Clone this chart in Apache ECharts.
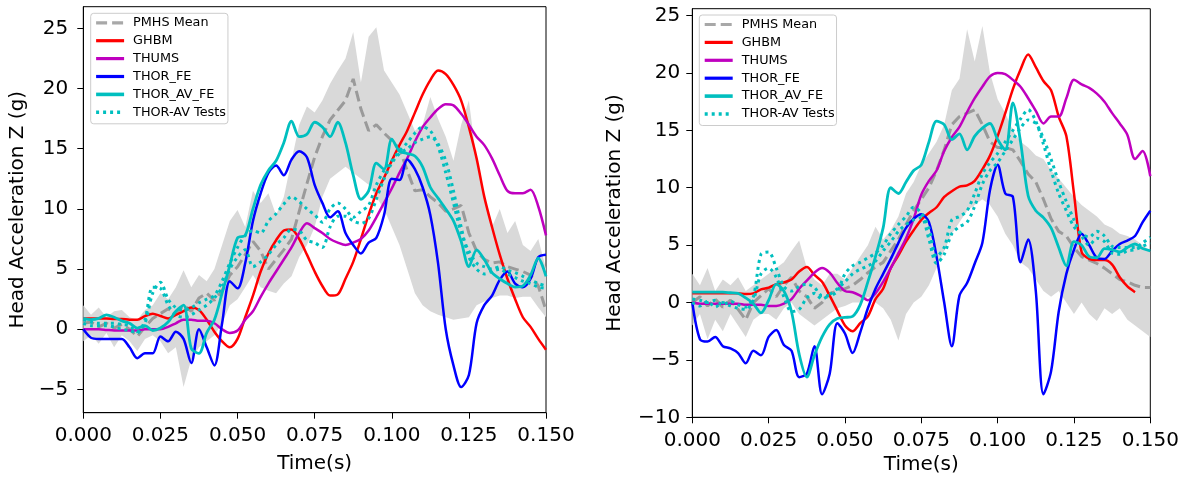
<!DOCTYPE html>
<html><head><meta charset="utf-8">
<script src="https://cdn.jsdelivr.net/npm/echarts@6/dist/echarts.min.js"></script>
<style>html,body{margin:0;padding:0;background:#fff}#c{width:1189px;height:485px}</style>
</head><body><div id="c"></div><script>
// time grid (ms)
const T_MS = [0,2.5,5,7.5,10,12.5,15,17.5,20,22.5,25,27.5,30,32.5,35,37.5,40,42.5,45,47.5,50,52.5,55,57.5,60,62.5,65,67.5,70,72.5,75,77.5,80,82.5,85,87.5,90,92.5,95,97.5,100,102.5,105,107.5,110,112.5,115,117.5,120,122.5,125,127.5,130,132.5,135,137.5,140,142.5,145,147.5,150];
const X_TICK_INTERVAL = 0.025;
const Y_TICKS_LEFT = [-5,0,5,10,15,20,25];
const Y_TICKS_RIGHT = [-10,-5,0,5,10,15,20,25];
const LEGEND_NAMES = ['PMHS Mean','GHBM','THUMS','THOR_FE','THOR_AV_FE','THOR-AV Tests'];

// ---------- left panel ----------
const L_UPPER = [2.0,1.2,1.8,1.0,1.5,1.6,1.0,0.8,1.6,2.0, 3.0,2.5,3.5,4.9,3.5,4.5,4.0,5.0,7.0,9.0, 9.9,8.5,11.5,10.5,11.3,9.5,11.0,14.0,17.0,18.5, 18.0,19.0,20.4,21.5,22.5,24.7,20.5,24.3,25.1,21.5, 20.5,19.5,18.0,16.5,17.0,19.3,17.5,16.0,14.0,17.0, 19.0,14.0,11.0,8.5,10.0,8.0,9.0,7.0,6.5,7.5, 5.0];
const L_LOWER = [-1.0,-0.5,-1.2,-0.3,-1.5,-0.5,-1.0,-1.8,-0.8,-0.5, -1.0,-2.0,-1.5,-4.8,-2.5,-1.5,-1.0,-0.5,0.5,2.0, 2.5,3.5,4.5,3.5,3.2,3.0,3.8,4.4,6.0,7.0, 8.5,11.0,12.5,13.0,13.5,13.0,12.5,12.0,11.0,10.0, 8.5,7.0,5.0,3.0,2.0,1.5,1.2,1.0,0.8,0.9, 1.0,2.0,2.3,2.6,2.8,2.8,2.6,2.7,2.7,1.8, 1.0];
const L_MEAN = [0.5,0.6,0.2,0.5,0.1,0.4,0.0,-0.6,0.2,0.9, 1.3,1.7,1.3,2.0,1.5,2.6,3.0,2.4,3.2,4.5, 5.2,6.2,7.3,6.5,5.0,5.8,6.6,7.5,9.8,12.1, 14.3,16.0,17.4,18.2,19.0,20.8,18.3,16.5,17.0,16.3, 15.7,15.0,13.2,11.5,11.6,11.0,10.5,9.8,10.0,10.3, 8.0,6.5,5.8,5.5,5.6,5.2,5.0,4.8,4.5,3.6, 1.6];
const L_GHBM = [0.9,0.9,0.9,0.9,0.85,0.85,0.8,0.8,1.1,1.3, 1.1,0.9,1.2,1.5,1.8,1.6,0.8,-0.2,-1.0,-1.5, -0.8,1.0,2.8,4.8,6.3,7.4,8.2,8.3,7.5,6.2, 4.8,3.6,2.8,2.9,4.2,5.6,7.5,9.5,11.3,12.6, 14.0,15.3,16.5,18.0,19.5,20.7,21.5,21.2,20.3,19.0, 16.8,14.2,11.0,8.5,6.2,4.2,2.5,1.0,0.2,-0.8, -1.7];
const L_THUMS = [0,0,0,-0.05,-0.1,-0.1,-0.1,-0.1,0,0, 0,0.2,0.5,0.8,0.8,0.7,0.7,0.5,0.0,-0.3, -0.1,0.8,1.5,2.7,3.8,4.8,5.8,6.8,8.0,8.8, 8.4,8.0,7.5,7.2,7.0,7.2,7.5,8.2,9.3,10.5, 11.7,13.0,14.2,15.6,16.8,17.6,18.3,18.7,18.6,17.9, 17.0,16.0,15.3,14.2,12.8,11.5,11.3,11.3,11.6,10.2, 7.8];
const L_THORFE = [0,-0.7,-0.8,-0.8,-0.8,-0.8,-1.5,-2.4,-2.0,-2.0, -0.6,-1.0,-0.2,-0.8,-2.8,0.0,-1.5,-3.0,0.5,4.0, 3.4,5.5,9.0,11.3,13.0,13.6,12.8,14.1,14.8,14.3, 12.0,10.5,9.3,9.8,8.0,7.0,6.3,7.2,7.6,9.5, 12.5,12.4,14.1,13.3,11.8,9.5,5.5,0.0,-3.0,-4.8, -3.8,0.5,2.0,2.8,4.1,4.8,3.8,3.5,4.2,6.0, 6.2];
const L_THORAV = [0.9,0.8,0.9,1.2,1.0,0.7,0.5,0.1,0.3,-0.1, 0.1,0.6,1.5,2.0,-1.6,-2.0,-0.3,0.8,3.0,5.3, 7.6,7.8,10.0,12.0,13.2,14.0,15.5,17.3,16.0,16.2, 17.2,16.8,16.0,17.2,15.5,12.8,10.8,11.5,13.8,13.3, 15.8,14.8,14.6,14.4,13.5,11.8,10.9,10.0,9.0,7.3, 5.2,6.6,5.8,4.7,4.2,3.8,3.5,3.6,4.5,5.9, 4.4];
const L_TEST_A = [0.8,0.6,0.5,0.5,0.5,0.4,0.3,-0.2,0.5,3.0, 3.9,2.5,1.8,1.6,1.8,2.2,2.5,2.8,4.0,5.5, 6.8,7.8,8.2,8.0,9.0,9.6,10.4,11.0,10.6,10.0, 9.5,8.9,10.0,10.5,10.0,9.3,9.8,10.3,12.0,13.2, 14.0,14.8,15.5,16.3,16.8,16.5,15.2,13.0,10.5,8.0, 6.5,5.5,5.2,5.0,5.2,4.9,4.7,4.4,4.1,3.8, 3.6];
const L_TEST_B = [0.5,0.3,0.3,0.3,0.2,0.0,-0.1,-0.3,0.8,3.5, 3.4,2.0,1.2,1.0,1.2,1.6,2.0,2.6,3.5,5.0, 6.0,6.6,5.2,5.6,6.2,7.0,7.6,8.3,8.2,7.4, 7.2,6.8,8.5,9.4,9.4,9.0,8.8,9.2,10.8,12.5, 13.8,14.6,15.0,15.5,15.8,16.0,15.4,14.0,11.5,8.5, 6.0,5.0,4.6,4.8,5.0,4.6,4.3,4.0,3.8,3.5, 3.4];

// ---------- right panel ----------
const R_UPPER = [2.5,1.5,3.0,1.0,2.0,1.5,2.2,1.0,1.5,2.0, 2.5,3.0,3.5,4.5,5.4,3.0,2.0,1.5,2.5,2.5, 2.0,3.0,4.0,5.0,6.6,5.5,6.3,7.5,9.5,10.5, 12.0,13.0,14.0,15.5,18.5,19.5,23.8,21.0,24.1,20.0, 17.7,16.5,15.0,14.0,13.5,12.8,12.5,11.5,10.8,10.0, 9.2,8.5,8.0,7.5,6.8,6.5,6.0,5.8,5.5,5.0, 4.5];
const R_LOWER = [-2.0,-1.0,-3.2,-1.5,-2.5,-1.0,-2.0,-3.0,-1.5,-1.0, -1.0,-1.5,-0.5,0.0,-1.0,-1.5,-2.0,-1.5,-1.0,-0.5, -0.3,0.0,0.0,0.5,0.0,-0.5,-1.5,-3.3,-1.0,0.0, 0.5,1.5,3.0,4.5,6.0,7.0,8.0,8.5,9.0,8.5, 7.5,6.0,5.0,3.5,3.0,2.0,1.0,0.5,1.0,0.0, -1.0,0.0,-1.0,-1.6,-0.5,-1.0,-0.5,-1.5,-2.0,-2.5, -3.0];
const R_MEAN = [0.0,0.5,-0.3,0.3,-0.4,0.2,-0.6,-1.5,0.0,0.6, 1.2,0.5,1.5,2.2,1.0,0.5,-0.5,0.0,0.8,1.0, 1.2,1.5,2.0,2.6,3.1,3.5,4.5,5.5,6.8,8.0, 9.0,10.0,11.5,13.3,15.5,16.2,16.5,16.8,15.5,14.0, 13.5,13.5,13.3,12.3,11.2,10.5,9.0,7.3,6.2,5.8, 4.8,4.0,3.7,3.4,3.0,2.5,2.0,1.8,1.5,1.3, 1.3];
const R_GHBM = [0.8,0.8,0.8,0.8,0.8,0.8,0.8,0.75,0.8,1.15, 1.3,1.6,1.75,2.0,2.7,3.1,2.4,1.8,0.6,-0.7, -2.0,-2.5,-1.8,-1.2,0.3,1.2,3.0,4.1,5.3,6.3, 7.2,7.8,8.3,9.2,9.7,10.1,10.2,10.6,11.6,12.8, 14.5,16.5,18.6,20.3,21.6,20.5,19.3,18.5,16.2,14.5, 9.5,4.4,3.8,3.7,3.7,3.3,2.2,1.4,0.9,null, null];
const R_THUMS = [0,-0.1,-0.1,-0.1,-0.1,-0.1,-0.1,-0.2,-0.2,-0.2, -0.3,-0.3,-0.1,0.3,1.2,1.9,2.6,3.0,2.6,1.7, 1.0,0.9,0.6,0.2,0.8,1.8,3.0,4.3,5.6,7.3, 9.4,10.6,11.5,13.2,14.4,15.3,16.6,17.8,18.8,19.7, 20.0,19.9,19.4,18.8,17.8,16.7,15.6,16.2,16.2,17.8, 19.4,19.0,18.7,18.2,17.5,16.5,15.6,14.6,12.5,13.2, 11.0];
const R_THORFE = [0,-3.2,-3.4,-3.0,-3.8,-4.0,-4.4,-5.3,-4.2,-4.6, -3.0,-2.4,-3.7,-4.2,-6.5,-6.2,-3.8,-8.0,-6.2,-1.8, -2.7,-4.4,-2.6,-0.5,1.2,2.5,3.8,5.2,6.5,7.3, 7.7,7.0,4.0,0.0,-3.8,0.6,1.7,3.4,5.2,9.8, 12.0,9.5,9.2,3.5,5.5,1.0,-8.0,-6.0,-0.8,2.5, 4.6,6.0,5.0,3.9,3.8,4.5,5.1,5.4,5.8,7.0, 8.0];
const R_THORAV = [0.9,0.9,0.9,0.9,0.9,0.85,0.8,0.4,-0.1,-0.9, 0.2,1.6,1.0,-0.8,-4.5,-6.5,-4.6,-3.0,-1.9,-1.4, -1.3,-1.2,-0.2,1.8,4.0,6.5,10.0,9.5,10.5,11.5, 12.0,14.0,15.8,15.5,14.2,14.7,13.3,14.5,15.2,15.6, 14.2,13.3,17.4,14.0,9.3,8.0,7.4,6.5,4.8,3.2, 5.3,5.0,4.0,3.9,4.7,4.6,4.4,4.8,5.1,4.7, 4.5];
const R_TEST_A = [0.3,0.2,0.0,0.2,-0.2,0.1,-0.2,-0.4,0.5,4.2, 4.4,3.0,1.4,1.0,1.4,1.6,1.3,0.6,0.6,1.0, 2.5,3.2,3.5,3.9,4.3,5.0,6.0,6.8,7.5,8.3, 7.8,6.5,4.0,4.8,7.2,7.5,8.0,9.5,11.2,12.2, 13.0,14.0,15.0,16.0,16.8,15.8,13.8,11.5,9.5,8.0, 6.6,6.0,5.7,6.2,5.8,4.9,4.8,4.8,4.8,5.2, 5.7];
const R_TEST_B = [0.0,-0.3,0.1,-0.4,0.0,-0.3,-0.5,-0.6,0.2,2.5, 3.0,2.2,0.5,-0.8,-0.6,0.4,0.8,0.3,0.7,1.2, 1.8,2.5,2.9,3.2,3.6,4.5,5.3,6.2,6.8,7.2, 7.4,5.5,3.4,4.2,6.0,6.6,7.0,8.4,10.3,11.5, 12.2,13.2,14.2,15.2,15.9,15.6,14.3,12.5,10.5,8.8, 7.2,5.8,5.0,5.6,5.3,4.3,4.2,4.5,4.6,4.9, 5.2];

const T = T_MS.map(v => v / 1000);
const FONT = 'DejaVu Sans';
const C = {mean:'#9a9a9a', band:'#d9d9d9', red:'#ff0000', mag:'#bf00bf', blue:'#0000ff', cyan:'#00bfbf'};
const LEGEND_STYLE = {
  'PMHS Mean':{color:'#a8a8a8', width:3.2, type:[11,5]},
  'GHBM':{color:C.red, width:3.2, type:'solid'},
  'THUMS':{color:C.mag, width:3.2, type:'solid'},
  'THOR_FE':{color:C.blue, width:3.2, type:'solid'},
  'THOR_AV_FE':{color:C.cyan, width:3.6, type:'solid'},
  'THOR-AV Tests':{color:C.cyan, width:3.6, type:[3,4]}
};

function bandSeries(gi, upper, lower){
  return {type:'custom', xAxisIndex:gi, yAxisIndex:gi, silent:true, z:1,
    data:[[0.075, 0]],
    renderItem:function(params, api){
      const pts = [];
      for (let i = 0; i < T.length; i++) pts.push(api.coord([T[i], upper[i]]));
      for (let i = T.length - 1; i >= 0; i--) pts.push(api.coord([T[i], lower[i]]));
      return {type:'polygon', shape:{points:pts}, style:{fill:C.band}};
    }};
}
function line(gi, name, vals, color, width, type, smooth){
  return {type:'line', name:name, xAxisIndex:gi, yAxisIndex:gi,
    data:T.map((t,i) => [t, vals[i]]), showSymbol:false, symbol:'none',
    smooth:smooth, lineStyle:{color:color, width:width, type:type}, itemStyle:{color:color},
    z:2, silent:true};
}
function panel(gi, P){
  return [
    bandSeries(gi, P.upper, P.lower),
    line(gi, 'PMHS Mean', P.mean, C.mean, 3, [11,5], false),
    line(gi, 'GHBM', P.ghbm, C.red, 2.5, 'solid', 0.3),
    line(gi, 'THUMS', P.thums, C.mag, 2.5, 'solid', 0.3),
    line(gi, 'THOR_FE', P.thorfe, C.blue, 2.5, 'solid', 0.3),
    line(gi, 'THOR_AV_FE', P.thorav, C.cyan, 2.8, 'solid', 0.3),
    line(gi, 'THOR-AV Tests', P.testA, C.cyan, 3, [3,4], 0.3),
    line(gi, 'THOR-AV Tests', P.testB, C.cyan, 3, [3,4], 0.3)
  ];
}
const minus = v => String(v).replace('-', '\u2212');
function xAx(gi, gap){
  return {type:'value', gridIndex:gi, min:0, max:0.15, interval:X_TICK_INTERVAL,
    name:'Time(s)', nameLocation:'middle', nameGap:gap,
    nameTextStyle:{fontFamily:FONT, fontSize:20, color:'#000'},
    axisLine:{onZero:false, lineStyle:{color:'#000', width:1}},
    axisTick:{show:true, length:6, lineStyle:{color:'#000'}},
    axisLabel:{fontFamily:FONT, fontSize:20, color:'#000', margin:13, showMinLabel:true, showMaxLabel:true,
      formatter:v => v.toFixed(3)},
    splitLine:{show:false}};
}
function yAx(gi, min, max, ticks, gap, margin){
  return {type:'value', gridIndex:gi, min:min, max:max,
    name:'Head Acceleration Z (g)', nameLocation:'middle', nameRotate:90, nameGap:gap,
    nameTextStyle:{fontFamily:FONT, fontSize:20, color:'#000'},
    axisLine:{show:true, onZero:false, lineStyle:{color:'#000', width:1}},
    axisTick:{show:true, length:6, customValues:ticks, lineStyle:{color:'#000'}},
    axisLabel:{fontFamily:FONT, fontSize:20, color:'#000', margin:margin, customValues:ticks, formatter:minus},
    splitLine:{show:false}};
}
function legend(left, top){
  return {left:left, top:top, orient:'vertical', selectedMode:false,
    padding:[3,2,5,3.6], itemWidth:28, itemHeight:14, itemGap:4.9,
    backgroundColor:'rgba(255,255,255,0.85)', borderColor:'#cccccc', borderWidth:1, borderRadius:3,
    itemStyle:{opacity:0},
    textStyle:{fontFamily:FONT, fontSize:12.8, color:'#000', padding:[0,0,0,4]},
    data:LEGEND_NAMES.map(n => ({name:n, itemStyle:{opacity:0}, lineStyle:LEGEND_STYLE[n]}))};
}

const chart = echarts.init(document.getElementById('c'), null, {renderer:'canvas'});
chart.setOption({
  animation:false,
  backgroundColor:'#fff',
  grid:[
    {left:83.3, top:6.7, width:462.7, height:406, show:true, borderColor:'#000', borderWidth:1, backgroundColor:'transparent'},
    {left:692.3, top:8.7, width:458, height:408.6, show:true, borderColor:'#000', borderWidth:1, backgroundColor:'transparent'}
  ],
  xAxis:[xAx(0, 41), xAx(1, 37)],
  yAxis:[yAx(0, -6.93, 26.8, Y_TICKS_LEFT, 56, 15), yAx(1, -10, 25.6, Y_TICKS_RIGHT, 68, 12)],
  legend:[legend(90.7, 13.3), legend(699.3, 15)],
  series:[].concat(
    panel(0, {upper:L_UPPER, lower:L_LOWER, mean:L_MEAN, ghbm:L_GHBM, thums:L_THUMS, thorfe:L_THORFE, thorav:L_THORAV, testA:L_TEST_A, testB:L_TEST_B}),
    panel(1, {upper:R_UPPER, lower:R_LOWER, mean:R_MEAN, ghbm:R_GHBM, thums:R_THUMS, thorfe:R_THORFE, thorav:R_THORAV, testA:R_TEST_A, testB:R_TEST_B})
  )
});
</script></body></html>
